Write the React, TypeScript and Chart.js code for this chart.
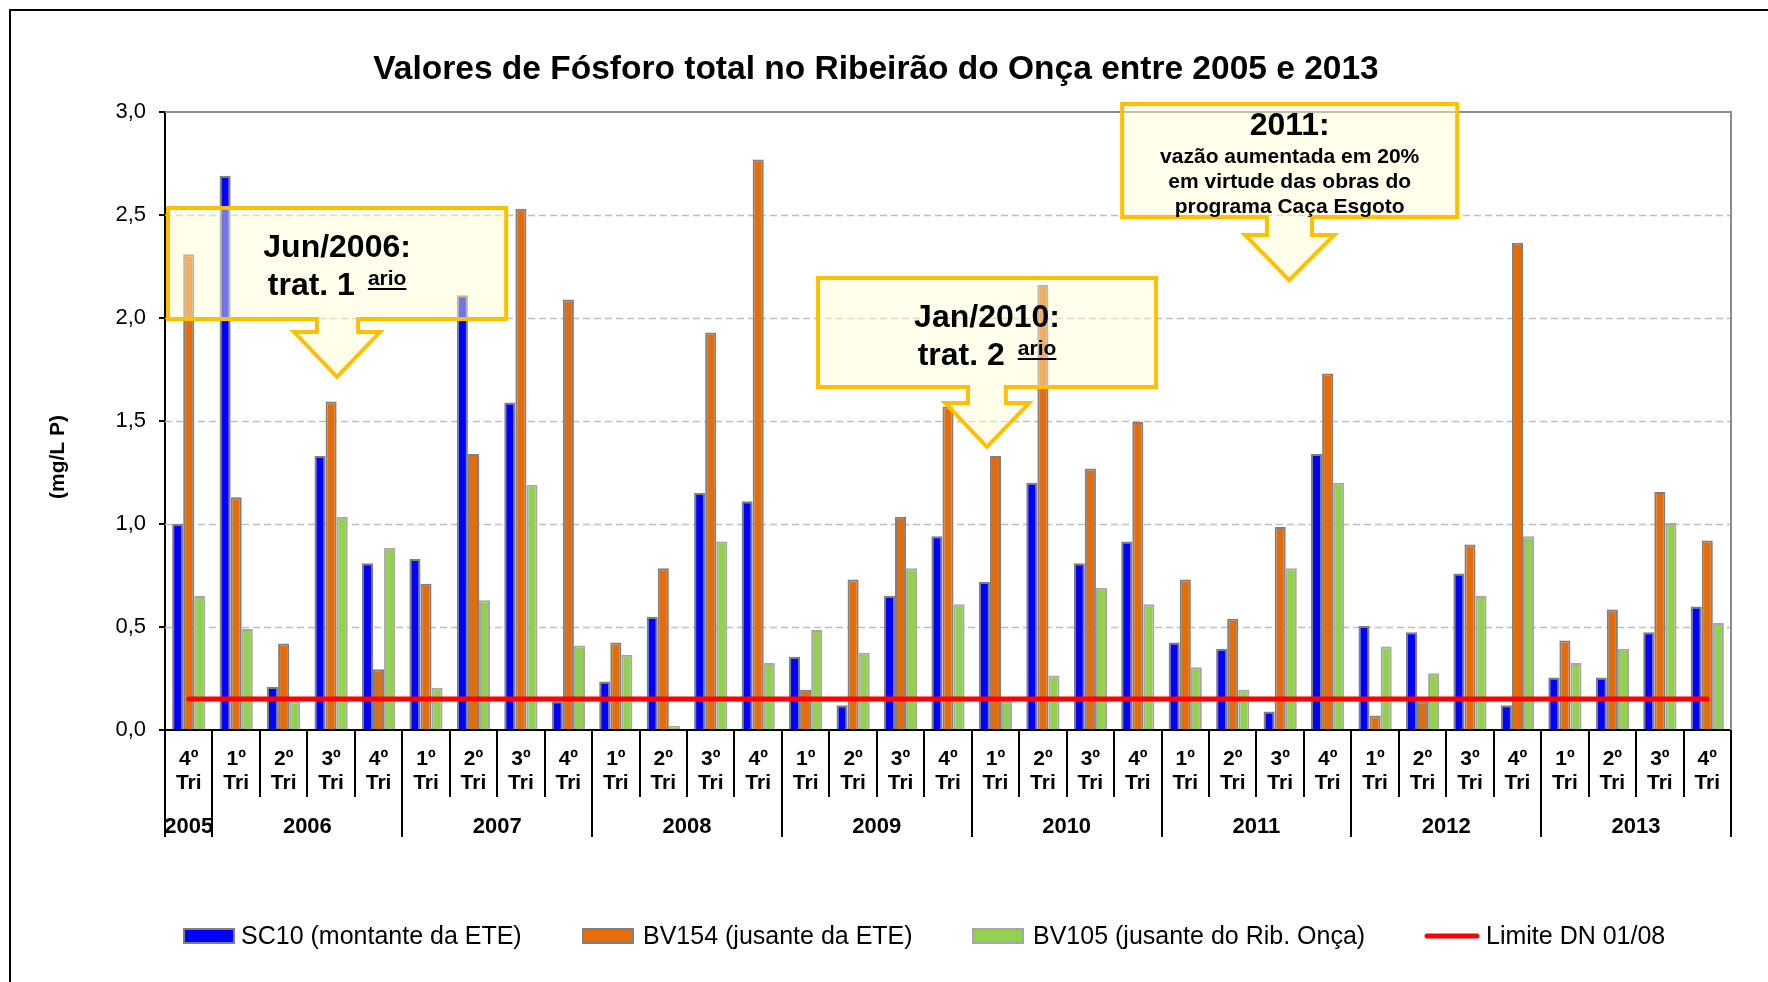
import React, { useEffect, useRef } from 'react';
import { Chart, registerables } from 'chart.js';

Chart.register(...registerables);

const FONT = '"Liberation Sans", Arial, sans-serif';

const quarters = ['4º', '1º', '2º', '3º', '4º', '1º', '2º', '3º', '4º', '1º', '2º', '3º', '4º', '1º', '2º', '3º', '4º', '1º', '2º', '3º', '4º', '1º', '2º', '3º', '4º', '1º', '2º', '3º', '4º', '1º', '2º', '3º', '4º'];
const years = ['2005', '2006', '2007', '2008', '2009', '2010', '2011', '2012', '2013'];
const yearSpans = [1, 4, 4, 4, 4, 4, 4, 4, 4];

const sc10 = [1.0, 2.69, 0.21, 1.33, 0.81, 0.83, 2.11, 1.59, 0.14, 0.235, 0.55, 1.15, 1.11, 0.355, 0.12, 0.65, 0.94, 0.72, 1.2, 0.81, 0.915, 0.425, 0.395, 0.09, 1.34, 0.505, 0.475, 0.76, 0.12, 0.255, 0.255, 0.475, 0.6];
const bv154 = [2.31, 1.13, 0.42, 1.595, 0.295, 0.71, 1.34, 2.53, 2.09, 0.425, 0.785, 1.93, 2.77, 0.195, 0.73, 1.035, 1.57, 1.33, 2.16, 1.27, 1.495, 0.73, 0.54, 0.985, 1.73, 0.07, 0.14, 0.9, 2.365, 0.435, 0.585, 1.155, 0.92];
const bv105 = [0.65, 0.49, 0.14, 1.035, 0.885, 0.205, 0.63, 1.19, 0.41, 0.365, 0.02, 0.915, 0.325, 0.485, 0.375, 0.785, 0.61, 0.14, 0.265, 0.69, 0.61, 0.305, 0.195, 0.785, 1.2, 0.405, 0.275, 0.65, 0.94, 0.325, 0.395, 1.005, 0.52];
const limiteDN = [0.15, 0.15, 0.15, 0.15, 0.15, 0.15, 0.15, 0.15, 0.15, 0.15, 0.15, 0.15, 0.15, 0.15, 0.15, 0.15, 0.15, 0.15, 0.15, 0.15, 0.15, 0.15, 0.15, 0.15, 0.15, 0.15, 0.15, 0.15, 0.15, 0.15, 0.15, 0.15, 0.15];

const seriesLabels = ['SC10 (montante da ETE)', 'BV154 (jusante da ETE)', 'BV105 (jusante do Rib. Onça)', 'Limite DN 01/08'];
const yMin = 0;
const yMax = 3;
const yStep = 0.5;

const title = 'Valores de Fósforo total no Ribeirão do Onça entre 2005 e 2013';
const yTitle = '(mg/L P)';

// Callouts: geometry in category units (x) and axis values (y)
const callouts = [
  {
    box: [0.063, 7.19, 2.534, 1.995], shaft: [3.2, 4.07], wingY: 1.932, wings: [2.72, 4.53], tip: [3.625, 1.714],
    head: 'Jun/2006:', main: 'trat. 1', sup: 'ario', lines: [] as string[],
  },
  {
    box: [13.76, 20.885, 2.194, 1.665], shaft: [16.92, 17.72], wingY: 1.587, wings: [16.44, 18.21], tip: [17.32, 1.374],
    head: 'Jan/2010:', main: 'trat. 2', sup: 'ario', lines: [] as string[],
  },
  {
    box: [20.17, 27.23, 3.039, 2.49], shaft: [23.22, 24.17], wingY: 2.403, wings: [22.76, 24.64], tip: [23.69, 2.184],
    head: '2011:', main: '', sup: '', lines: ['vazão aumentada em 20%', 'em virtude das obras do', 'programa Caça Esgoto'],
  },
];

const COLORS = {
  blue: '#0000FF',
  orange: '#E46C0A',
  green: '#92D050',
  red: '#FF0000',
  border: '#7F7F7F',
  borderLight: '#A6A6A6',
};

const decorPlugin = {
  id: 'decor',
  beforeDraw(chart: any) {
    const ctx = chart.ctx;
    ctx.save();
    ctx.fillStyle = '#FFFFFF';
    ctx.fillRect(0, 0, chart.width, chart.height);
    ctx.restore();
  },
  beforeDatasetsDraw(chart: any) {
    const { ctx, chartArea } = chart;
    const ys = chart.scales.y;
    ctx.save();
    ctx.strokeStyle = '#BFBFBF';
    ctx.lineWidth = 1.5;
    ctx.setLineDash([7, 4]);
    for (let v = yMin + yStep; v < yMax - 1e-9; v += yStep) {
      const y = Math.round(ys.getPixelForValue(v)) + 0.5;
      ctx.beginPath();
      ctx.moveTo(chartArea.left, y);
      ctx.lineTo(chartArea.right, y);
      ctx.stroke();
    }
    ctx.setLineDash([]);
    ctx.strokeStyle = '#8C8C8C';
    ctx.lineWidth = 2;
    const yt = ys.getPixelForValue(yMax);
    ctx.beginPath();
    ctx.moveTo(chartArea.left, yt);
    ctx.lineTo(chartArea.right, yt);
    ctx.lineTo(chartArea.right, chartArea.bottom);
    ctx.stroke();
    ctx.restore();
  },
  afterDatasetsDraw(chart: any) {
    const { ctx } = chart;
    const xs = chart.scales.x;
    const ys = chart.scales.y;
    const c0 = xs.getPixelForValue(0);
    const w = xs.getPixelForValue(1) - c0;
    const X = (u: number) => c0 - w / 2 + u * w;
    const Y = (v: number) => ys.getPixelForValue(v);

    for (const c of callouts) {
      const [bx0, bx1, by0, by1] = c.box;
      const L = X(bx0), R = X(bx1), T = Y(by0), B = Y(by1);
      const s0 = X(c.shaft[0]), s1 = X(c.shaft[1]);
      const wy = Y(c.wingY);
      const w0 = X(c.wings[0]), w1 = X(c.wings[1]);
      const tx = X(c.tip[0]), ty = Y(c.tip[1]);
      ctx.save();
      ctx.beginPath();
      ctx.moveTo(L, T);
      ctx.lineTo(R, T);
      ctx.lineTo(R, B);
      ctx.lineTo(s1, B);
      ctx.lineTo(s1, wy);
      ctx.lineTo(w1, wy);
      ctx.lineTo(tx, ty);
      ctx.lineTo(w0, wy);
      ctx.lineTo(s0, wy);
      ctx.lineTo(s0, B);
      ctx.lineTo(L, B);
      ctx.closePath();
      ctx.fillStyle = 'rgba(255,255,210,0.45)';
      ctx.fill();
      ctx.lineWidth = 4;
      ctx.lineJoin = 'miter';
      ctx.strokeStyle = '#FFC000';
      ctx.stroke();

      const cx = (L + R) / 2;
      ctx.fillStyle = '#000000';
      ctx.textBaseline = 'alphabetic';
      if (c.lines.length === 0) {
        ctx.font = `bold 32px ${FONT}`;
        ctx.textAlign = 'center';
        ctx.fillText(c.head, cx, T + 49);
        const wMain = ctx.measureText(c.main).width;
        ctx.font = `bold 21px ${FONT}`;
        const wSup = ctx.measureText(c.sup).width;
        const gap = 13;
        const total = wMain + gap + wSup;
        const sx = cx - total / 2;
        ctx.textAlign = 'left';
        ctx.font = `bold 32px ${FONT}`;
        ctx.fillText(c.main, sx, T + 87);
        ctx.font = `bold 21px ${FONT}`;
        const supX = sx + wMain + gap;
        ctx.fillText(c.sup, supX, T + 77);
        ctx.strokeStyle = '#000000';
        ctx.lineWidth = 2;
        ctx.beginPath();
        ctx.moveTo(supX, T + 81);
        ctx.lineTo(supX + wSup, T + 81);
        ctx.stroke();
      } else {
        ctx.textAlign = 'center';
        ctx.font = `bold 32px ${FONT}`;
        ctx.fillText(c.head, cx, T + 31);
        ctx.font = `bold 21px ${FONT}`;
        c.lines.forEach((ln, i) => ctx.fillText(ln, cx, T + 59 + i * 25));
      }
      ctx.restore();
    }
  },
  afterDraw(chart: any) {
    const { ctx, chartArea } = chart;
    const xs = chart.scales.x;
    const c0 = xs.getPixelForValue(0);
    const w = xs.getPixelForValue(1) - c0;
    const X = (u: number) => c0 - w / 2 + u * w;
    const base = chartArea.bottom;
    ctx.save();

    // outer frame (left and top)
    ctx.strokeStyle = '#000000';
    ctx.lineWidth = 2;
    ctx.beginPath();
    ctx.moveTo(10, chart.height + 5);
    ctx.lineTo(10, 10);
    ctx.lineTo(chart.width + 5, 10);
    ctx.stroke();

    // category separators
    const yearBounds = new Set<number>();
    let acc = 0;
    yearBounds.add(0);
    for (const s of yearSpans) { acc += s; yearBounds.add(acc); }
    for (let i = 0; i <= quarters.length; i++) {
      const x = Math.round(X(i));
      const isYear = yearBounds.has(i);
      ctx.beginPath();
      ctx.moveTo(x, base);
      ctx.lineTo(x, isYear ? base + 107 : base + 67);
      ctx.stroke();
    }

    // year labels
    ctx.fillStyle = '#000000';
    ctx.font = `bold 22px ${FONT}`;
    ctx.textAlign = 'center';
    ctx.textBaseline = 'alphabetic';
    acc = 0;
    years.forEach((yr, i) => {
      const s = yearSpans[i];
      const cx = X(acc + s / 2);
      ctx.fillText(yr, cx, base + 103);
      acc += s;
    });

    // title
    ctx.font = `bold 33.5px ${FONT}`;
    ctx.fillText(title, 876, 79);

    // y axis title
    ctx.save();
    ctx.translate(58, 457);
    ctx.rotate(-Math.PI / 2);
    ctx.font = `bold 21px ${FONT}`;
    ctx.textBaseline = 'middle';
    ctx.fillText(yTitle, 0, 0);
    ctx.restore();

    // legend
    const ly = 936;
    const items = [
      { bx: 183, tx: 241, color: COLORS.blue, border: COLORS.border, line: false },
      { bx: 582, tx: 643, color: COLORS.orange, border: COLORS.border, line: false },
      { bx: 972, tx: 1033, color: COLORS.green, border: COLORS.borderLight, line: false },
      { bx: 1425, tx: 1486, color: COLORS.red, border: COLORS.red, line: true },
    ];
    items.forEach((it, i) => {
      if (it.line) {
        ctx.strokeStyle = it.color;
        ctx.lineWidth = 5;
        ctx.lineCap = 'round';
        ctx.beginPath();
        ctx.moveTo(it.bx + 2, ly);
        ctx.lineTo(it.bx + 52, ly);
        ctx.stroke();
        ctx.lineCap = 'butt';
      } else {
        ctx.fillStyle = it.color;
        ctx.fillRect(it.bx, ly - 8, 52, 16);
        ctx.strokeStyle = it.border;
        ctx.lineWidth = 2;
        ctx.strokeRect(it.bx + 1, ly - 7, 50, 14);
      }
      ctx.fillStyle = '#000000';
      ctx.font = `25px ${FONT}`;
      ctx.textAlign = 'left';
      ctx.textBaseline = 'middle';
      ctx.fillText(seriesLabels[i], it.tx, ly + 1);
    });

    ctx.restore();
  },
};

export default function App() {
  const ref = useRef<HTMLCanvasElement | null>(null);

  useEffect(() => {
    document.body.style.margin = '0';
    const canvas = ref.current;
    if (!canvas) return;
    const chart = new Chart(canvas, {
      type: 'bar',
      data: {
        labels: quarters.map((q) => [q, 'Tri']),
        datasets: [
          { type: 'bar', label: seriesLabels[0], data: sc10, backgroundColor: COLORS.blue, borderColor: COLORS.border, borderWidth: 2, barPercentage: 1, categoryPercentage: 0.7, order: 1 },
          { type: 'bar', label: seriesLabels[1], data: bv154, backgroundColor: COLORS.orange, borderColor: COLORS.border, borderWidth: 2, barPercentage: 1, categoryPercentage: 0.7, order: 1 },
          { type: 'bar', label: seriesLabels[2], data: bv105, backgroundColor: COLORS.green, borderColor: COLORS.borderLight, borderWidth: 2, barPercentage: 1, categoryPercentage: 0.7, order: 1 },
          { type: 'line', label: seriesLabels[3], data: limiteDN, borderColor: COLORS.red, backgroundColor: COLORS.red, borderWidth: 5, pointRadius: 0, borderCapStyle: 'round', tension: 0, order: 0 } as any,
        ],
      },
      options: {
        responsive: false,
        animation: false,
        layout: { padding: { left: 0, top: 112, right: 37, bottom: 0 } },
        plugins: {
          legend: { display: false },
          title: { display: false },
          tooltip: { enabled: false },
        },
        scales: {
          x: {
            grid: { display: false },
            border: { display: true, color: '#000000', width: 2 },
            ticks: {
              color: '#000000',
              font: { family: FONT, size: 21, weight: 'bold', lineHeight: '24px' } as any,
              padding: 9,
              maxRotation: 0,
              minRotation: 0,
              autoSkip: false,
            },
            afterFit: (scale: any) => { scale.height = 252; },
          },
          y: {
            min: yMin,
            max: yMax,
            ticks: {
              stepSize: yStep,
              color: '#000000',
              font: { family: FONT, size: 22 },
              padding: 13,
              callback: (v: any) => Number(v).toFixed(1).replace('.', ','),
            },
            grid: { display: true, drawOnChartArea: false, drawTicks: true, tickLength: 6, tickColor: '#000000', tickWidth: 2, color: '#000000', lineWidth: 2 },
            border: { display: true, color: '#000000', width: 2 },
            afterFit: (scale: any) => { scale.width = 165; },
          },
        },
      },
      plugins: [decorPlugin],
    });
    return () => chart.destroy();
  }, []);

  return <canvas ref={ref} width={1768} height={982} style={{ display: 'block', width: 1768, height: 982 }} />;
}
